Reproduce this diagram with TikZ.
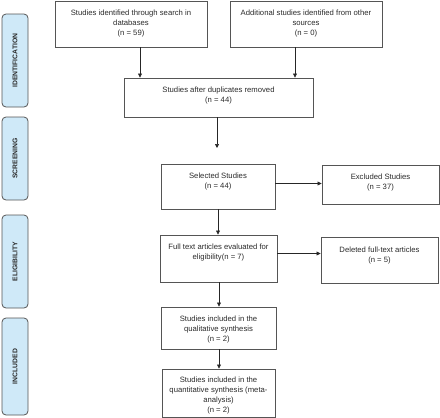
\documentclass[tikz,border=0pt]{standalone}
\usepackage{fontspec}
\setmainfont{Liberation Sans}
\usetikzlibrary{arrows.meta}
\definecolor{boxline}{HTML}{555555}
\definecolor{txtc}{HTML}{2A2A2A}
\definecolor{phasefill}{HTML}{CFE9F8}
\begin{document}
\begin{tikzpicture}[x=1pt,y=1pt,
  flowbox/.style={draw=boxline,line width=0.9pt,minimum width=#1,inner sep=0pt},
  boxtxt/.style={anchor=north,inner sep=0pt,align=center,text=txtc,font=\fontsize{7.7}{10}\selectfont},
  phase/.style={draw=boxline,fill=phasefill,line width=0.8pt,rounded corners=4pt,minimum width=26pt,inner sep=0pt},
  phasetxt/.style={rotate=90,font=\fontsize{6.8}{7}\selectfont\bfseries,text=txtc},
  arr/.style={draw=black!85,line width=0.7pt,-{Triangle[length=4pt,width=4pt]}}]
\useasboundingbox (0,0) rectangle (440,-418);
% phase labels
\node[phase,minimum height=93pt] (p1) at (15,-60.5) {};
\node[phasetxt] (p1t) at (p1.center) {IDENTIFICATION};
\node[phase,minimum height=83pt] (p2) at (15,-158.5) {};
\node[phasetxt] (p2t) at (p2.center) {SCREENING};
\node[phase,minimum height=93pt] (p3) at (15,-261.5) {};
\node[phasetxt] (p3t) at (p3.center) {ELIGIBILITY};
\node[phase,minimum height=97pt] (p4) at (15,-366.5) {};
\node[phasetxt] (p4t) at (p4.center) {INCLUDED};
% boxes
\node[flowbox=152pt,minimum height=46pt] (b1) at (131,-24) {};
\node[boxtxt] (b1t) at ([yshift=-9.5pt]b1.north) {Studies identified through search in\\databases\\(n = 59)};
\node[flowbox=152pt,minimum height=46pt] (b2) at (306,-24) {};
\node[boxtxt] (b2t) at ([yshift=-9.5pt]b2.north) {Additional studies identified from other\\sources\\(n = 0)};
\node[flowbox=189pt,minimum height=39pt] (b3) at (218.5,-97.5) {};
\node[boxtxt] (b3t) at ([yshift=-9.5pt]b3.north) {Studies after duplicates removed\\(n = 44)};
\node[flowbox=114pt,minimum height=45pt] (b4) at (218,-186.5) {};
\node[boxtxt] (b4t) at ([yshift=-9.5pt]b4.north) {Selected Studies\\(n = 44)};
\node[flowbox=117pt,minimum height=39pt] (b5) at (380.5,-184.5) {};
\node[boxtxt] (b5t) at ([yshift=-9.5pt]b5.north) {Excluded Studies\\(n = 37)};
\node[flowbox=117pt,minimum height=47pt] (b6) at (218.5,-258.5) {};
\node[boxtxt] (b6t) at ([yshift=-9.5pt]b6.north) {Full text articles evaluated for\\eligibility(n = 7)};
\node[flowbox=117pt,minimum height=46pt] (b7) at (379.5,-260) {};
\node[boxtxt] (b7t) at ([yshift=-10pt]b7.north) {Deleted full-text articles\\(n = 5)};
\node[flowbox=115pt,minimum height=42pt] (b8) at (218.5,-328) {};
\node[boxtxt] (b8t) at ([yshift=-9.5pt]b8.north) {Studies included in the\\qualitative synthesis\\(n = 2)};
\node[flowbox=113pt,minimum height=48pt] (b9) at (218.5,-393) {};
\node[boxtxt] (b9t) at ([yshift=-8.5pt]b9.north) {Studies included in the\\quantitative synthesis (meta-\\analysis)\\(n = 2)};
% connectors
\coordinate (x1) at (140,0);
\coordinate (x2) at (295,0);
\coordinate (x3) at (219,0);
\coordinate (gap) at (217,-148);
\coordinate (e4) at ([yshift=3pt]b4.east);
\coordinate (e6) at ([yshift=5pt]b6.east);
\draw[arr] (b1.south -| x1) -- (b3.north -| x1);
\draw[arr] (b2.south -| x2) -- (b3.north -| x2);
\draw[arr] (b3.south -| gap) -- (gap);
\draw[arr] (e4) -- (b5.west |- e4);
\draw[arr] (b4.south) -- (b6.north -| b4.south);
\draw[arr] (e6) -- (b7.west |- e6);
\draw[arr] (b6.south -| x3) -- (b8.north -| x3);
\draw[arr] (b8.south -| x3) -- (b9.north -| x3);
\end{tikzpicture}
\end{document}
